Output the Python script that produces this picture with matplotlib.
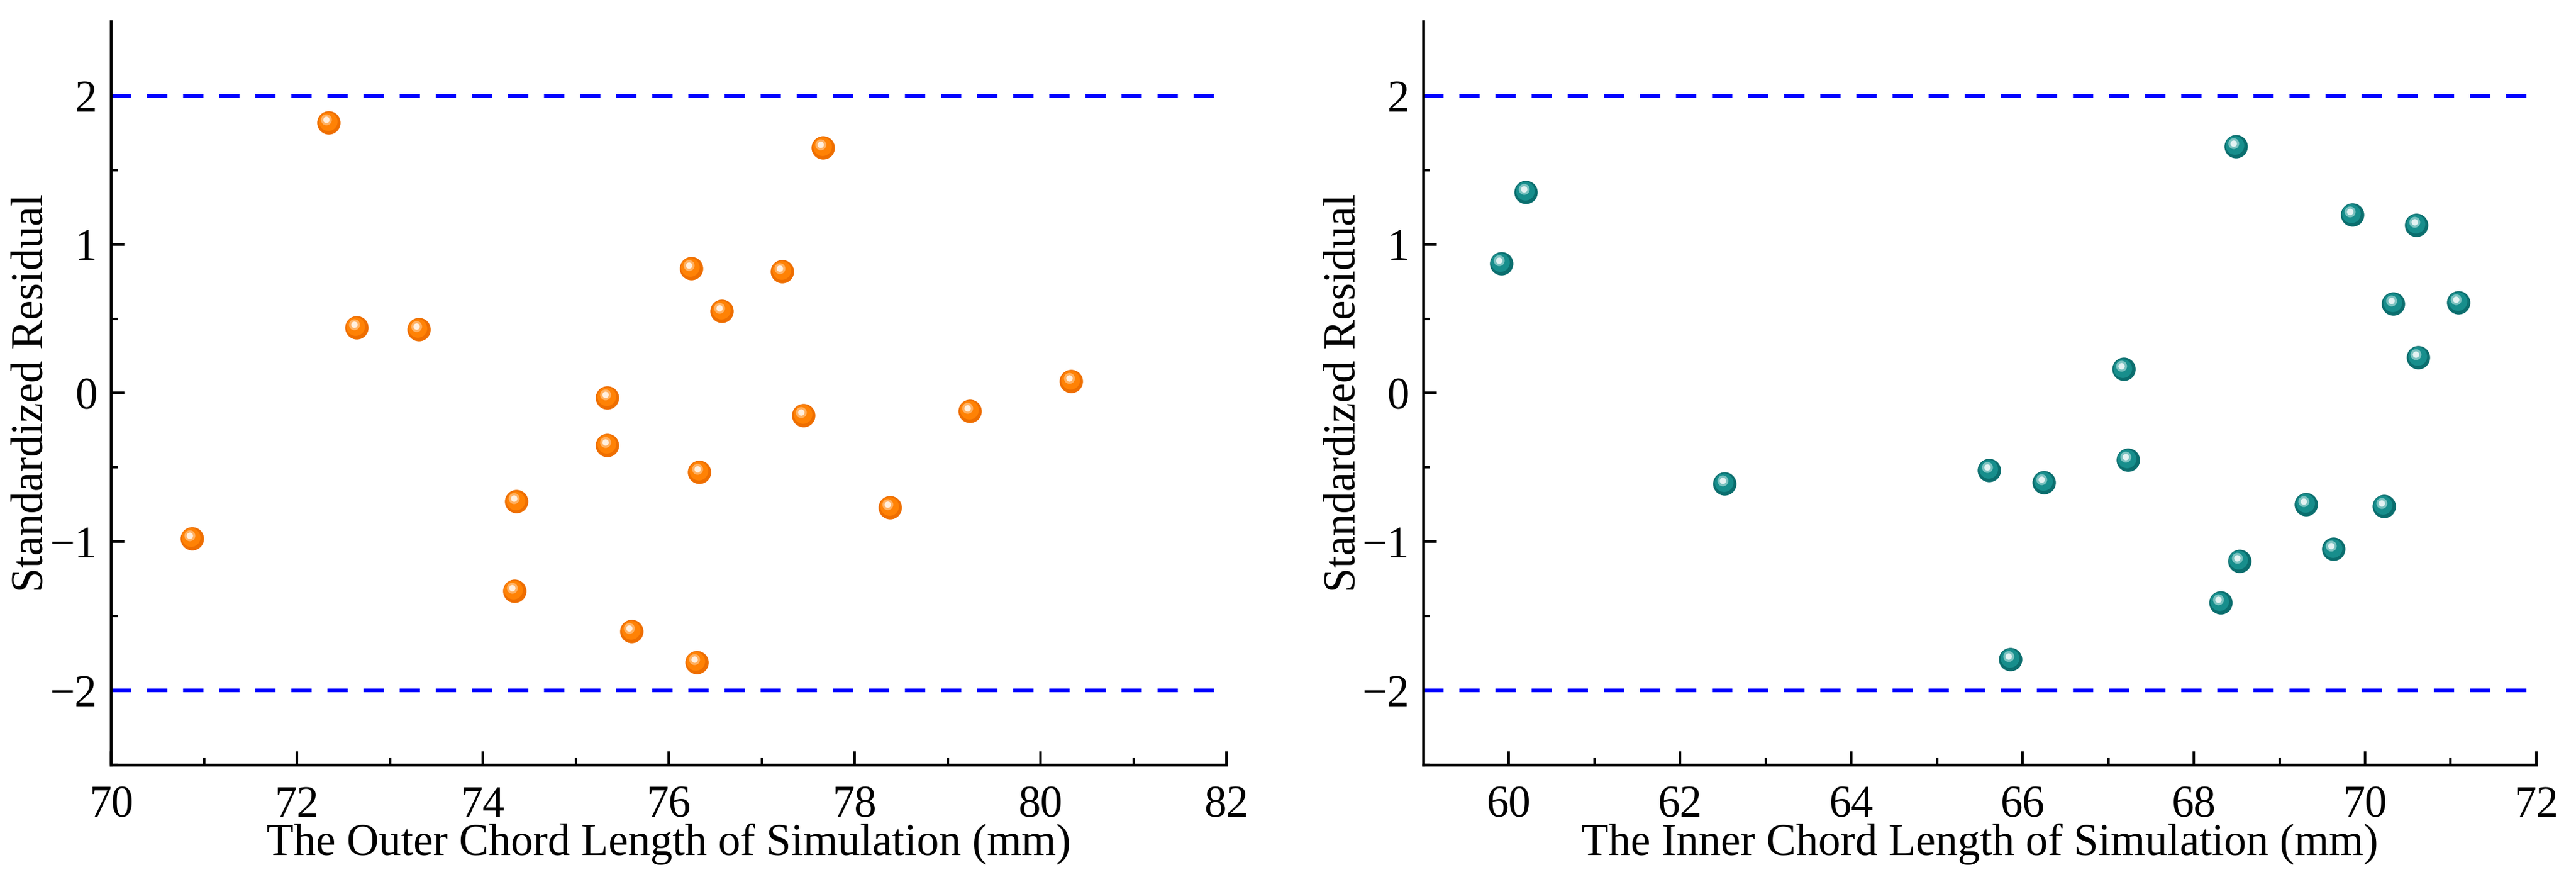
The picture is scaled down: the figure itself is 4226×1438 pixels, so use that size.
import matplotlib
matplotlib.use("Agg")
import matplotlib.pyplot as plt
from matplotlib.transforms import offset_copy

plt.rcParams['font.family'] = ['Liberation Serif', 'DejaVu Serif']
plt.rcParams['axes.unicode_minus'] = True

# ---- data ----
outer_x = [72.34, 77.66, 76.24, 77.22, 76.57, 72.64, 73.31, 80.33, 75.34, 79.24,
           77.45, 75.34, 76.33, 74.36, 78.38, 70.87, 74.34, 75.60, 76.30]
outer_res = [1.82, 1.65, 0.84, 0.82, 0.55, 0.44, 0.43, 0.08, -0.03, -0.12,
             -0.15, -0.35, -0.53, -0.73, -0.77, -0.98, -1.33, -1.60, -1.81]

inner_x = [68.49, 60.20, 69.85, 70.60, 59.91, 71.09, 70.33, 70.62, 67.18, 67.23,
           65.61, 66.25, 62.52, 69.31, 70.22, 69.63, 68.53, 68.31, 65.86]
inner_res = [1.66, 1.35, 1.20, 1.13, 0.87, 0.61, 0.60, 0.24, 0.16, -0.45,
             -0.52, -0.60, -0.61, -0.75, -0.76, -1.05, -1.13, -1.41, -1.79]

outer_ticks = [70, 72, 74, 76, 78, 80, 82]
inner_ticks = [60, 62, 64, 66, 68, 70, 72]
res_ticks = [-2, -1, 0, 1, 2]
limit = 2

FS = 17.5
fig = plt.figure(figsize=(4226 / 300, 1438 / 300), dpi=300)
ax1 = fig.add_axes([0.0431, 0.128, 0.4330, 0.8477])
ax2 = fig.add_axes([0.5525, 0.128, 0.4321, 0.8477])


def balls(ax, x, y, base, mid, light):
    # fake shaded sphere: dark base, lighter body, small highlight up-left
    d = 9.2
    ax.scatter(x, y, s=d ** 2, color=base, linewidths=0, zorder=3)
    t1 = offset_copy(ax.transData, fig=fig, x=-0.35, y=0.45, units='points')
    ax.scatter(x, y, s=(d * 0.8) ** 2, color=mid, linewidths=0, zorder=4, transform=t1)
    t2 = offset_copy(ax.transData, fig=fig, x=-0.9, y=1.2, units='points')
    ax.scatter(x, y, s=4.3 ** 2, color=light, alpha=0.55, linewidths=0, zorder=5, transform=t2)
    ax.scatter(x, y, s=2.5 ** 2, color='white', alpha=0.8, linewidths=0, zorder=6, transform=t2)


def style(ax, xlim, xticks, xlabel):
    ax.axhline(limit, color='#0000FF', lw=1.45, ls=(0, (5.5, 4.3)), zorder=2)
    ax.axhline(-limit, color='#0000FF', lw=1.45, ls=(0, (5.5, 4.3)), zorder=2)
    ax.set_xlim(*xlim)
    ax.set_ylim(-2.5, 2.5)
    ax.set_xticks(xticks)
    ax.set_xticks([t + 1 for t in xticks[:-1]], minor=True)
    ax.set_yticks(res_ticks)
    ax.set_yticks([-2.5, -1.5, -0.5, 0.5, 1.5], minor=True)
    ax.spines['top'].set_visible(False)
    ax.spines['right'].set_visible(False)
    for s in ('left', 'bottom'):
        ax.spines[s].set_linewidth(1.1)
    ax.tick_params(which='both', direction='in', width=1.0, labelsize=FS)
    ax.tick_params(which='major', length=5.3)
    ax.tick_params(which='minor', length=2.7)
    ax.tick_params(axis='x', pad=8.2)
    ax.tick_params(axis='y', pad=5.5)
    ax.set_xlabel(xlabel, fontsize=FS)
    ax.set_ylabel('Standardized Residual', fontsize=FS)
    ax.xaxis.set_label_coords(0.5, -0.079)
    ax.yaxis.set_label_coords(-0.053, 0.5)


balls(ax1, outer_x, outer_res, '#EE6E00', '#FF8205', '#FFD9B0')
style(ax1, (70, 82), outer_ticks, 'The Outer Chord Length of Simulation (mm)')

balls(ax2, inner_x, inner_res, '#0B6E6E', '#178E8C', '#CFEDEC')
style(ax2, (59, 72), inner_ticks, 'The Inner Chord Length of Simulation (mm)')

fig.savefig('out.png', dpi=300)
